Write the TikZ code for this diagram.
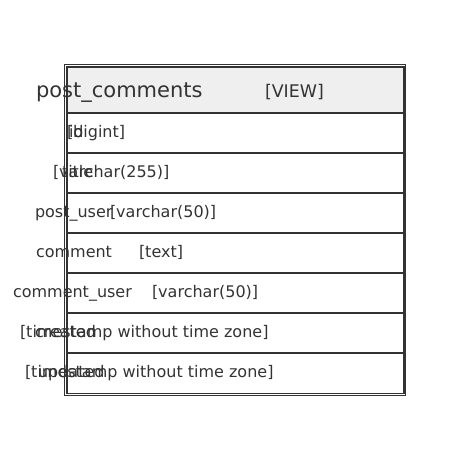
\documentclass[tikz,border=0pt]{standalone}
\usepackage{fontspec}
\setmainfont{DejaVu Sans}
\usetikzlibrary{positioning}
\definecolor{linegray}{HTML}{333333}
\definecolor{headgray}{HTML}{EFEFEF}
\begin{document}
\begin{tikzpicture}[x=1pt,y=-1pt,
every node/.style={inner sep=0pt,outer sep=0pt,text=linegray,anchor=base west},
rowtext/.style={font=\fontsize{16}{19}\selectfont},
headtext/.style={font=\fontsize{21}{25}\selectfont},
rowline/.style={draw=linegray,line width=1.8pt}]
\useasboundingbox (0,0) rectangle (471,460);
% table frame
\fill[headgray] (67,67) rectangle (404,113.3);
\draw[linegray,line width=1pt] (64.5,65) rectangle (405.5,395);
\draw[rowline] (67,67) rectangle (404,393.5);
\foreach \y in {113.3,153.3,193.3,233.3,273.3,313.3,353.3}
  \draw[rowline] (67,\y) -- (404,\y);
% header
\node[headtext] (title) at (36,97) {post\_comments};
\node[rowtext,font=\fontsize{17.4}{20}\selectfont] (kind) at (265,97) {[VIEW]};
% columns
\node[rowtext] (idname) at (69,137) {id};
\node[rowtext] (idtype) at (67,137) {[bigint]};
\node[rowtext] (titlename) at (62,177) {title};
\node[rowtext] (titletype) at (53,177) {[varchar(255)]};
\node[rowtext] (pusername) at (35,217) {post\_user};
\node[rowtext] (pusertype) at (110,217) {[varchar(50)]};
\node[rowtext] (commentname) at (36,257) {comment};
\node[rowtext] (commenttype) at (139,257) {[text]};
\node[rowtext] (cusername) at (13,297) {comment\_user};
\node[rowtext] (cusertype) at (152,297) {[varchar(50)]};
\node[rowtext] (createdname) at (35,337) {created};
\node[rowtext] (createdtype) at (20,337) {[timestamp without time zone]};
\node[rowtext] (updatedname) at (38,377) {updated};
\node[rowtext] (updatedtype) at (25,377) {[timestamp without time zone]};
\end{tikzpicture}
\end{document}
